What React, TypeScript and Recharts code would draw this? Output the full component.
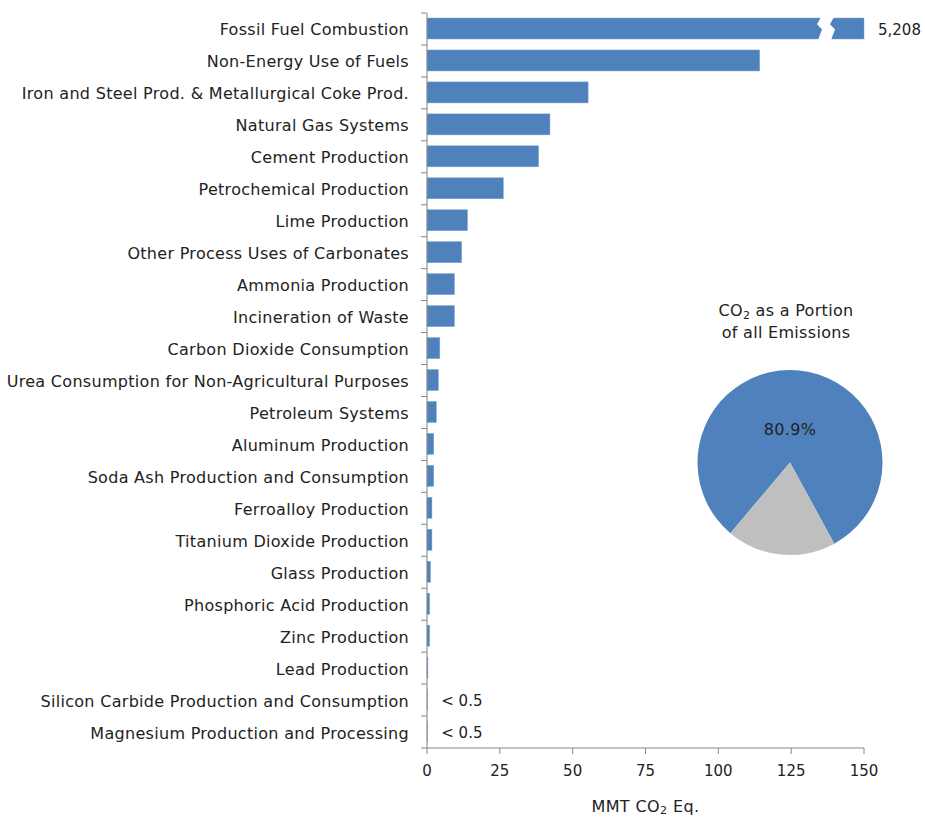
import { BarChart, Bar, XAxis, YAxis, LabelList, PieChart, Pie, Cell } from "recharts";

const categories = [
  "Fossil Fuel Combustion",
  "Non-Energy Use of Fuels",
  "Iron and Steel Prod. & Metallurgical Coke Prod.",
  "Natural Gas Systems",
  "Cement Production",
  "Petrochemical Production",
  "Lime Production",
  "Other Process Uses of Carbonates",
  "Ammonia Production",
  "Incineration of Waste",
  "Carbon Dioxide Consumption",
  "Urea Consumption for Non-Agricultural Purposes",
  "Petroleum Systems",
  "Aluminum Production",
  "Soda Ash Production and Consumption",
  "Ferroalloy Production",
  "Titanium Dioxide Production",
  "Glass Production",
  "Phosphoric Acid Production",
  "Zinc Production",
  "Lead Production",
  "Silicon Carbide Production and Consumption",
  "Magnesium Production and Processing",
];

const emissions = [
  5208, 114.2, 55.3, 42.2, 38.3, 26.2, 13.9, 11.9, 9.4, 9.4, 4.4, 3.9, 3.2, 2.3,
  2.3, 1.7, 1.7, 1.2, 0.9, 0.9, 0.3, 0.1, 0.1,
];

const valueLabels = [
  "5,208", "", "", "", "", "", "", "", "", "", "", "", "", "", "", "", "", "",
  "", "", "", "< 0.5", "< 0.5",
];

const xTicks = [0, 25, 50, 75, 100, 125, 150];

const pieNames = ["CO2", "Other Gases"];
const pieValues = [80.9, 19.1];

const AXIS_MAX = 150;
const BLUE = "#4F81BD";
const GREY = "#BFBFBF";
const TEXT = "#222222";
const AXIS = "#868686";
const FONT = "'DejaVu Sans', Verdana, sans-serif";

const W = 925;
const H = 818;
const MARGIN = { top: 13, right: 61, bottom: 40, left: 0 };
const X_AXIS_H = 30;
const BAND = (H - MARGIN.top - MARGIN.bottom - X_AXIS_H) / categories.length;

const data = categories.map((name, i) => ({
  name,
  value: emissions[i],
  shown: Math.min(emissions[i], AXIS_MAX),
  label: valueLabels[i],
}));

const pieData = pieNames.map((name, i) => ({ name, value: pieValues[i] }));

function CategoryTick(props: any) {
  const { x, y, payload, index } = props;
  return (
    <g>
      <text
        x={x - 18}
        y={y + 1}
        textAnchor="end"
        dominantBaseline="central"
        fontSize={16}
        letterSpacing={0.3}
        fontFamily={FONT}
        fill={TEXT}
      >
        {payload.value}
      </text>
      <line x1={x - 6} x2={x} y1={y - BAND / 2} y2={y - BAND / 2} stroke={AXIS} />
      {index === categories.length - 1 && (
        <line x1={x - 6} x2={x} y1={y + BAND / 2} y2={y + BAND / 2} stroke={AXIS} />
      )}
    </g>
  );
}

// bar with a break mark when the value runs past the axis
function BrokenBar(props: any) {
  const { x, y, width, height, payload } = props;
  const end = x + width;
  const broken = payload.value > AXIS_MAX;
  return (
    <g>
      <rect x={x} y={y} width={width} height={height} fill={BLUE} stroke="#7FA3D1" strokeWidth={0.5} />
      {broken && (
        <polygon
          fill="#fff"
          points={[
            [end - 43, y - 1],
            [end - 30, y - 1],
            [end - 34, y + height * 0.3],
            [end - 29, y + height * 0.55],
            [end - 33, y + height + 1],
            [end - 46, y + height + 1],
            [end - 42, y + height * 0.55],
            [end - 47, y + height * 0.3],
          ]
            .map((p) => p.join(","))
            .join(" ")}
        />
      )}
    </g>
  );
}

function ValueLabel(props: any) {
  const { x, y, width, height, value } = props;
  if (!value) return null;
  return (
    <text
      x={x + width + 14}
      y={y + height / 2 + 1}
      dominantBaseline="central"
      fontSize={15}
      fontFamily={FONT}
      fill={TEXT}
    >
      {value}
    </text>
  );
}

function AxisTitle(props: any) {
  const { viewBox } = props;
  const cx = viewBox.x + viewBox.width / 2;
  return (
    <text
      x={cx}
      y={viewBox.y + 64}
      textAnchor="middle"
      fontSize={16}
      letterSpacing={0.4}
      fontFamily={FONT}
      fill={TEXT}
    >
      MMT CO
      <tspan fontSize={11} dy={2}>2</tspan>
      <tspan dy={-2}> Eq.</tspan>
    </text>
  );
}

function PieValueLabel(props: any) {
  const { cx, cy, index } = props;
  if (index !== 0) return null;
  return (
    <text
      x={cx}
      y={cy - 33}
      textAnchor="middle"
      dominantBaseline="central"
      fontSize={16}
      letterSpacing={0.3}
      fontFamily={FONT}
      fill={TEXT}
    >
      {pieValues[0].toFixed(1)}%
    </text>
  );
}

export default function App() {
  return (
    <div
      style={{
        position: "absolute",
        left: 0,
        top: 0,
        width: W,
        height: H,
        background: "#fff",
        fontFamily: FONT,
      }}
    >
      <BarChart width={W} height={H} data={data} layout="vertical" margin={MARGIN} barSize={21}>
        <XAxis
          type="number"
          domain={[0, AXIS_MAX]}
          ticks={xTicks}
          height={X_AXIS_H}
          tickSize={6}
          tickMargin={11}
          stroke={AXIS}
          tick={{ fill: TEXT, fontSize: 15, fontFamily: FONT }}
          label={{ content: AxisTitle }}
        />
        <YAxis
          type="category"
          dataKey="name"
          width={427}
          interval={0}
          tickSize={0}
          tickMargin={0}
          tickLine={false}
          stroke={AXIS}
          tick={CategoryTick}
        />
        <Bar dataKey="shown" shape={BrokenBar} isAnimationActive={false}>
          <LabelList dataKey="label" content={ValueLabel} />
        </Bar>
      </BarChart>

      <div
        style={{
          position: "absolute",
          left: 686,
          top: 300,
          width: 200,
          textAlign: "center",
          fontSize: 16,
          letterSpacing: 0.3,
          lineHeight: "22px",
          color: TEXT,
        }}
      >
        CO<sub style={{ fontSize: 11, verticalAlign: "-3px", lineHeight: 0 }}>2</sub> as a Portion
        <br />
        of all Emissions
      </div>

      <div style={{ position: "absolute", left: 680, top: 290 }}>
        <PieChart width={220} height={300} margin={{ top: 0, right: 0, bottom: 0, left: 0 }}>
          <Pie
            data={pieData}
            dataKey="value"
            cx={110}
            cy={172.5}
            outerRadius={92.5}
            startAngle={-61.4}
            endAngle={298.6}
            stroke="none"
            labelLine={false}
            label={PieValueLabel}
            isAnimationActive={false}
          >
            <Cell fill={BLUE} />
            <Cell fill={GREY} />
          </Pie>
        </PieChart>
      </div>
    </div>
  );
}
